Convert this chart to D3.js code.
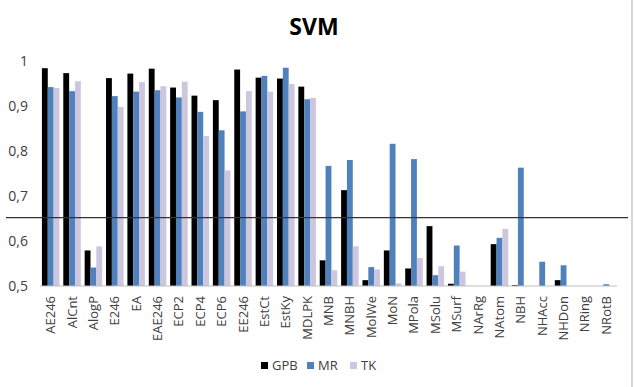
<!DOCTYPE html>
<html>
<head>
  <meta charset="UTF-8">
  <title>SVM</title>
  <style>
    body { margin: 0; background: #fff; }
    svg { font-family: "Open Sans", sans-serif; }
  </style>
</head>
<body>
  <script src="https://cdn.jsdelivr.net/npm/d3@7"></script>
  <script>
    // categories and series
    const categories = ["AE246", "AlCnt", "AlogP", "E246", "EA", "EAE246", "ECP2", "ECP4", "ECP6", "EE246",
      "EstCt", "EstKy", "MDLPK", "MNB", "MNBH", "MolWe", "MoN", "MPola", "MSolu", "MSurf",
      "NArRg", "NAtom", "NBH", "NHAcc", "NHDon", "NRing", "NRotB"];
    const gpb = [0.984, 0.973, 0.579, 0.962, 0.972, 0.983, 0.941, 0.923, 0.913, 0.981,
      0.963, 0.961, 0.943, 0.557, 0.713, 0.513, 0.579, 0.539, 0.633, 0.505,
      0.5, 0.593, 0.502, 0.5, 0.513, 0.5, 0.5];
    const mr = [0.942, 0.933, 0.541, 0.922, 0.932, 0.935, 0.919, 0.887, 0.846, 0.888,
      0.967, 0.985, 0.915, 0.767, 0.780, 0.542, 0.816, 0.782, 0.524, 0.590,
      0.5, 0.607, 0.763, 0.554, 0.546, 0.5, 0.504];
    const tk = [0.940, 0.955, 0.588, 0.898, 0.953, 0.944, 0.954, 0.833, 0.757, 0.933,
      0.932, 0.949, 0.918, 0.535, 0.588, 0.537, 0.506, 0.562, 0.544, 0.532,
      0.5, 0.627, 0.5, 0.5, 0.5, 0.5, 0.5];
    const seriesNames = ["GPB", "MR", "TK"];
    const seriesColors = ["#000000", "#4f81bd", "#ccc6df"];
    const yTicks = [0.5, 0.6, 0.7, 0.8, 0.9, 1];
    const threshold = 0.652;

    const series = [gpb, mr, tk];
    const width = 634, height = 387;

    const svg = d3.select("body").append("svg")
      .attr("width", width)
      .attr("height", height);

    // right frame edge
    svg.append("line")
      .attr("x1", 632).attr("x2", 632)
      .attr("y1", 0).attr("y2", height)
      .attr("stroke", "#c8c8c8").attr("stroke-width", 1.5);

    // title
    svg.append("text")
      .attr("x", 314).attr("y", 35)
      .attr("text-anchor", "middle")
      .attr("font-size", "23px")
      .attr("font-weight", "bold")
      .text("SVM");

    const x = d3.scaleBand()
      .domain(categories)
      .range([40, 617])
      .paddingInner(0.18)
      .paddingOuter(0.09);

    const xSub = d3.scaleBand()
      .domain(seriesNames)
      .range([0, x.bandwidth()]);

    const y = d3.scaleLinear()
      .domain([0.5, 1])
      .range([286, 61]);

    // y tick labels
    svg.append("g")
      .selectAll("text")
      .data(yTicks)
      .join("text")
      .attr("x", 28)
      .attr("y", d => y(d) + 5)
      .attr("text-anchor", "end")
      .attr("font-size", "14px")
      .attr("fill", "#404040")
      .text(d => d3.format(".1f")(d).replace(".", ",").replace(/,0$/, ""));

    // bars
    const groups = svg.append("g")
      .selectAll("g")
      .data(categories)
      .join("g")
      .attr("transform", d => `translate(${x(d)},0)`);

    groups.selectAll("rect")
      .data((d, i) => series.map((s, j) => ({ name: seriesNames[j], color: seriesColors[j], v: s[i] })))
      .join("rect")
      .attr("x", d => xSub(d.name))
      .attr("width", xSub.bandwidth())
      .attr("y", d => y(d.v))
      .attr("height", d => y(0.5) - y(d.v))
      .attr("fill", d => d.color);

    // x axis baseline
    svg.append("line")
      .attr("x1", 40).attr("x2", 617)
      .attr("y1", y(0.5)).attr("y2", y(0.5))
      .attr("stroke", "#bfbfbf");

    // x labels (rotated)
    svg.append("g")
      .selectAll("text")
      .data(categories)
      .join("text")
      .attr("transform", d => `translate(${x(d) + x.bandwidth() / 2 + 4.5},${y(0.5) + 10}) rotate(-90)`)
      .attr("text-anchor", "end")
      .attr("font-size", "13px")
      .attr("fill", "#404040")
      .text(d => d);

    // threshold line
    svg.append("line")
      .attr("x1", 6).attr("x2", 628)
      .attr("y1", y(threshold)).attr("y2", y(threshold))
      .attr("stroke", "#333").attr("stroke-width", 1.2);

    // legend
    const legendX = [261, 307, 350];
    const legend = svg.append("g")
      .selectAll("g")
      .data(seriesNames)
      .join("g")
      .attr("transform", (d, i) => `translate(${legendX[i]},362)`);
    legend.append("rect")
      .attr("width", 7).attr("height", 7)
      .attr("fill", (d, i) => seriesColors[i]);
    legend.append("text")
      .attr("x", 11).attr("y", 8)
      .attr("font-size", "13px")
      .attr("fill", "#404040")
      .text(d => d);
  </script>
</body>
</html>
